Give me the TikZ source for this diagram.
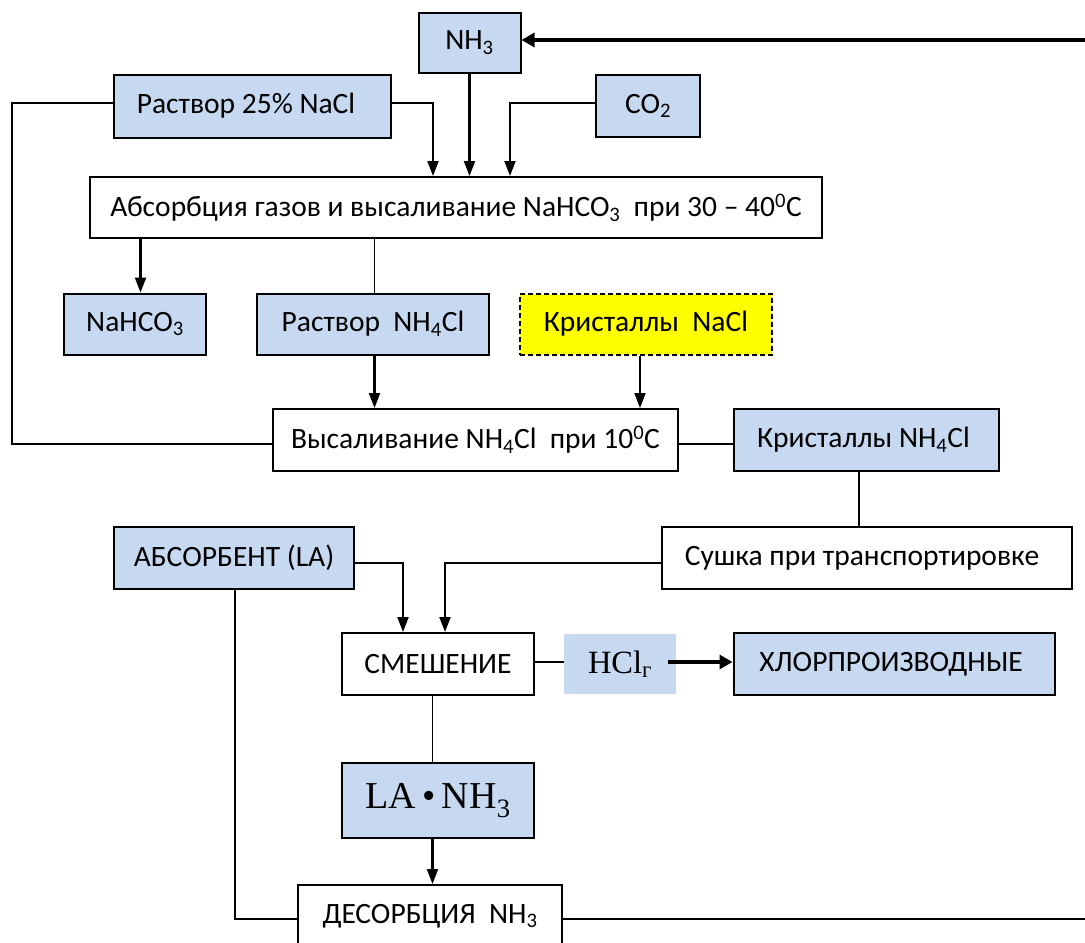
\documentclass[tikz,border=0pt]{standalone}
\usepackage{fontspec}
\setmainfont{Carlito}
\newfontfamily\tnr{Liberation Serif}
\usetikzlibrary{arrows.meta}
\definecolor{boxblue}{HTML}{C6D9F1}
\definecolor{boxyellow}{HTML}{FFFF00}
\begin{document}
\begin{tikzpicture}[x=1pt,y=-1pt,
  base/.style={draw=black, line width=2pt, inner sep=0pt, align=center, font=\fontsize{29.5}{34}\selectfont},
  bluebox/.style={base, fill=boxblue},
  whitebox/.style={base, fill=white},
  yellowbox/.style={base, fill=boxyellow, dash pattern=on 5pt off 3pt},
  conn/.style={line width=1.9pt},
  arr/.style={line width=2.1pt, -{Triangle[length=15pt,width=11pt]}},
  thickarr/.style={line width=3.5pt, -{Triangle[length=13pt,width=14pt]}},
]
\useasboundingbox (0,0) rectangle (1085,943);
\clip (0,0) rectangle (1085,943);
% nodes
\node[bluebox, minimum width=102pt, minimum height=60pt] (nh3) at (469.5,43) {NH\textsubscript{3}};
\node[bluebox, minimum width=277pt, minimum height=63pt] (nacl25) at (252,106) {Раствор 25\% NaCl\hspace{12pt}};
\node[bluebox, minimum width=104pt, minimum height=62pt] (co2) at (648,106) {CO\textsubscript{2}};
\node[whitebox, minimum width=732pt, minimum height=61pt] (absorb) at (456,207.5) {Абсорбция газов и высаливание NaHCO\textsubscript{3}\ \ при 30 -- 40\textsuperscript{0}C};
\node[bluebox, minimum width=142pt, minimum height=61pt] (nahco3) at (135,324) {NaHCO\textsubscript{3}};
\node[bluebox, minimum width=232pt, minimum height=61pt] (rnh4cl) at (373,324) {Раствор\ \ NH\textsubscript{4}Cl};
\node[yellowbox, minimum width=252pt, minimum height=61pt] (krnacl) at (646,324) {Кристаллы\ \ NaCl};
\node[whitebox, minimum width=405pt, minimum height=62pt] (vysal) at (475.5,440) {Высаливание NH\textsubscript{4}Cl\ \ при 10\textsuperscript{0}C};
\node[bluebox, minimum width=265pt, minimum height=62pt] (krnh4cl) at (866.5,440) {Кристаллы NH\textsubscript{4}Cl\hspace{6pt}};
\node[whitebox, minimum width=410pt, minimum height=62pt] (sushka) at (867,558) {Сушка при транспортировке\hspace{10pt}};
\node[bluebox, minimum width=240pt, minimum height=62pt] (absorbent) at (234,558) {АБСОРБЕНТ (LA)};
\node[whitebox, minimum width=192pt, minimum height=62pt] (smesh) at (438,664) {СМЕШЕНИЕ};
\node[fill=boxblue, inner sep=0pt, minimum width=112pt, minimum height=60pt, font=\tnr\fontsize{32.5}{36}\selectfont] (hcl) at (620,664) {HCl\textsubscript{г}};
\node[bluebox, minimum width=321pt, minimum height=62pt] (chlor) at (894,664) {ХЛОРПРОИЗВОДНЫЕ\hspace{6pt}};
\node[bluebox, minimum width=192pt, minimum height=75pt, font=\tnr\fontsize{38}{42}\selectfont] (lanh3) at (438,800.5) {LA\,•\,NH\textsubscript{3}};
\node[whitebox, minimum width=264pt, minimum height=62pt] (desorb) at (430,916) {ДЕСОРБЦИЯ\ \ NH\textsubscript{3}};
% helper coordinates
\coordinate (rtop) at (1085,40);
\coordinate (rbot) at (1085,919);
\coordinate (lft) at (12,444);
\coordinate (c433) at (433,0);
\coordinate (c510) at (510,0);
\coordinate (c140) at (140.5,0);
\coordinate (c374) at (374.5,0);
\coordinate (c640) at (640,0);
\coordinate (c859) at (859,0);
\coordinate (c403) at (403,0);
\coordinate (c445) at (445,0);
\coordinate (c432) at (432.5,0);
\coordinate (c235) at (235,0);
% connectors
\draw[thickarr] (rtop) -- (nh3.east |- rtop);
\draw[arr] (nh3.south) -- (nh3.south |- absorb.north);
\draw[arr] ([yshift=3pt]nacl25.east) -| (c433 |- absorb.north);
\draw[arr] ([yshift=3pt]co2.west) -| (c510 |- absorb.north);
\draw[conn] ([yshift=3pt]nacl25.west) -| (lft) -- ([yshift=-4pt]vysal.west);
\draw[arr] (c140 |- absorb.south) -- (c140 |- nahco3.north);
\draw[conn] (c374 |- absorb.south) -- (c374 |- rnh4cl.north);
\draw[arr] (c374 |- rnh4cl.south) -- (c374 |- vysal.north);
\draw[arr] (c640 |- krnacl.south) -- (c640 |- vysal.north);
\draw[conn] ([yshift=-4pt]vysal.east) -- ([yshift=-4pt]krnh4cl.west);
\draw[conn] (c859 |- krnh4cl.south) -- (c859 |- sushka.north);
\draw[arr] ([yshift=-5pt]absorbent.east) -| (c403 |- smesh.north);
\draw[arr] ([yshift=-5pt]sushka.west) -| (c445 |- smesh.north);
\draw[conn] ([yshift=2pt]smesh.east) -- ([yshift=2pt]hcl.west);
\draw[thickarr] ([xshift=-8pt,yshift=2pt]hcl.east) -- ([yshift=2pt]chlor.west);
\draw[conn] (c432 |- smesh.south) -- (c432 |- lanh3.north);
\draw[arr] (c432 |- lanh3.south) -- (c432 |- desorb.north);
\draw[conn] (c235 |- absorbent.south) |- ([yshift=-3pt]desorb.west);
\draw[line width=2.2pt] ([yshift=-3pt]desorb.east) -- (rbot);
\end{tikzpicture}
\end{document}
